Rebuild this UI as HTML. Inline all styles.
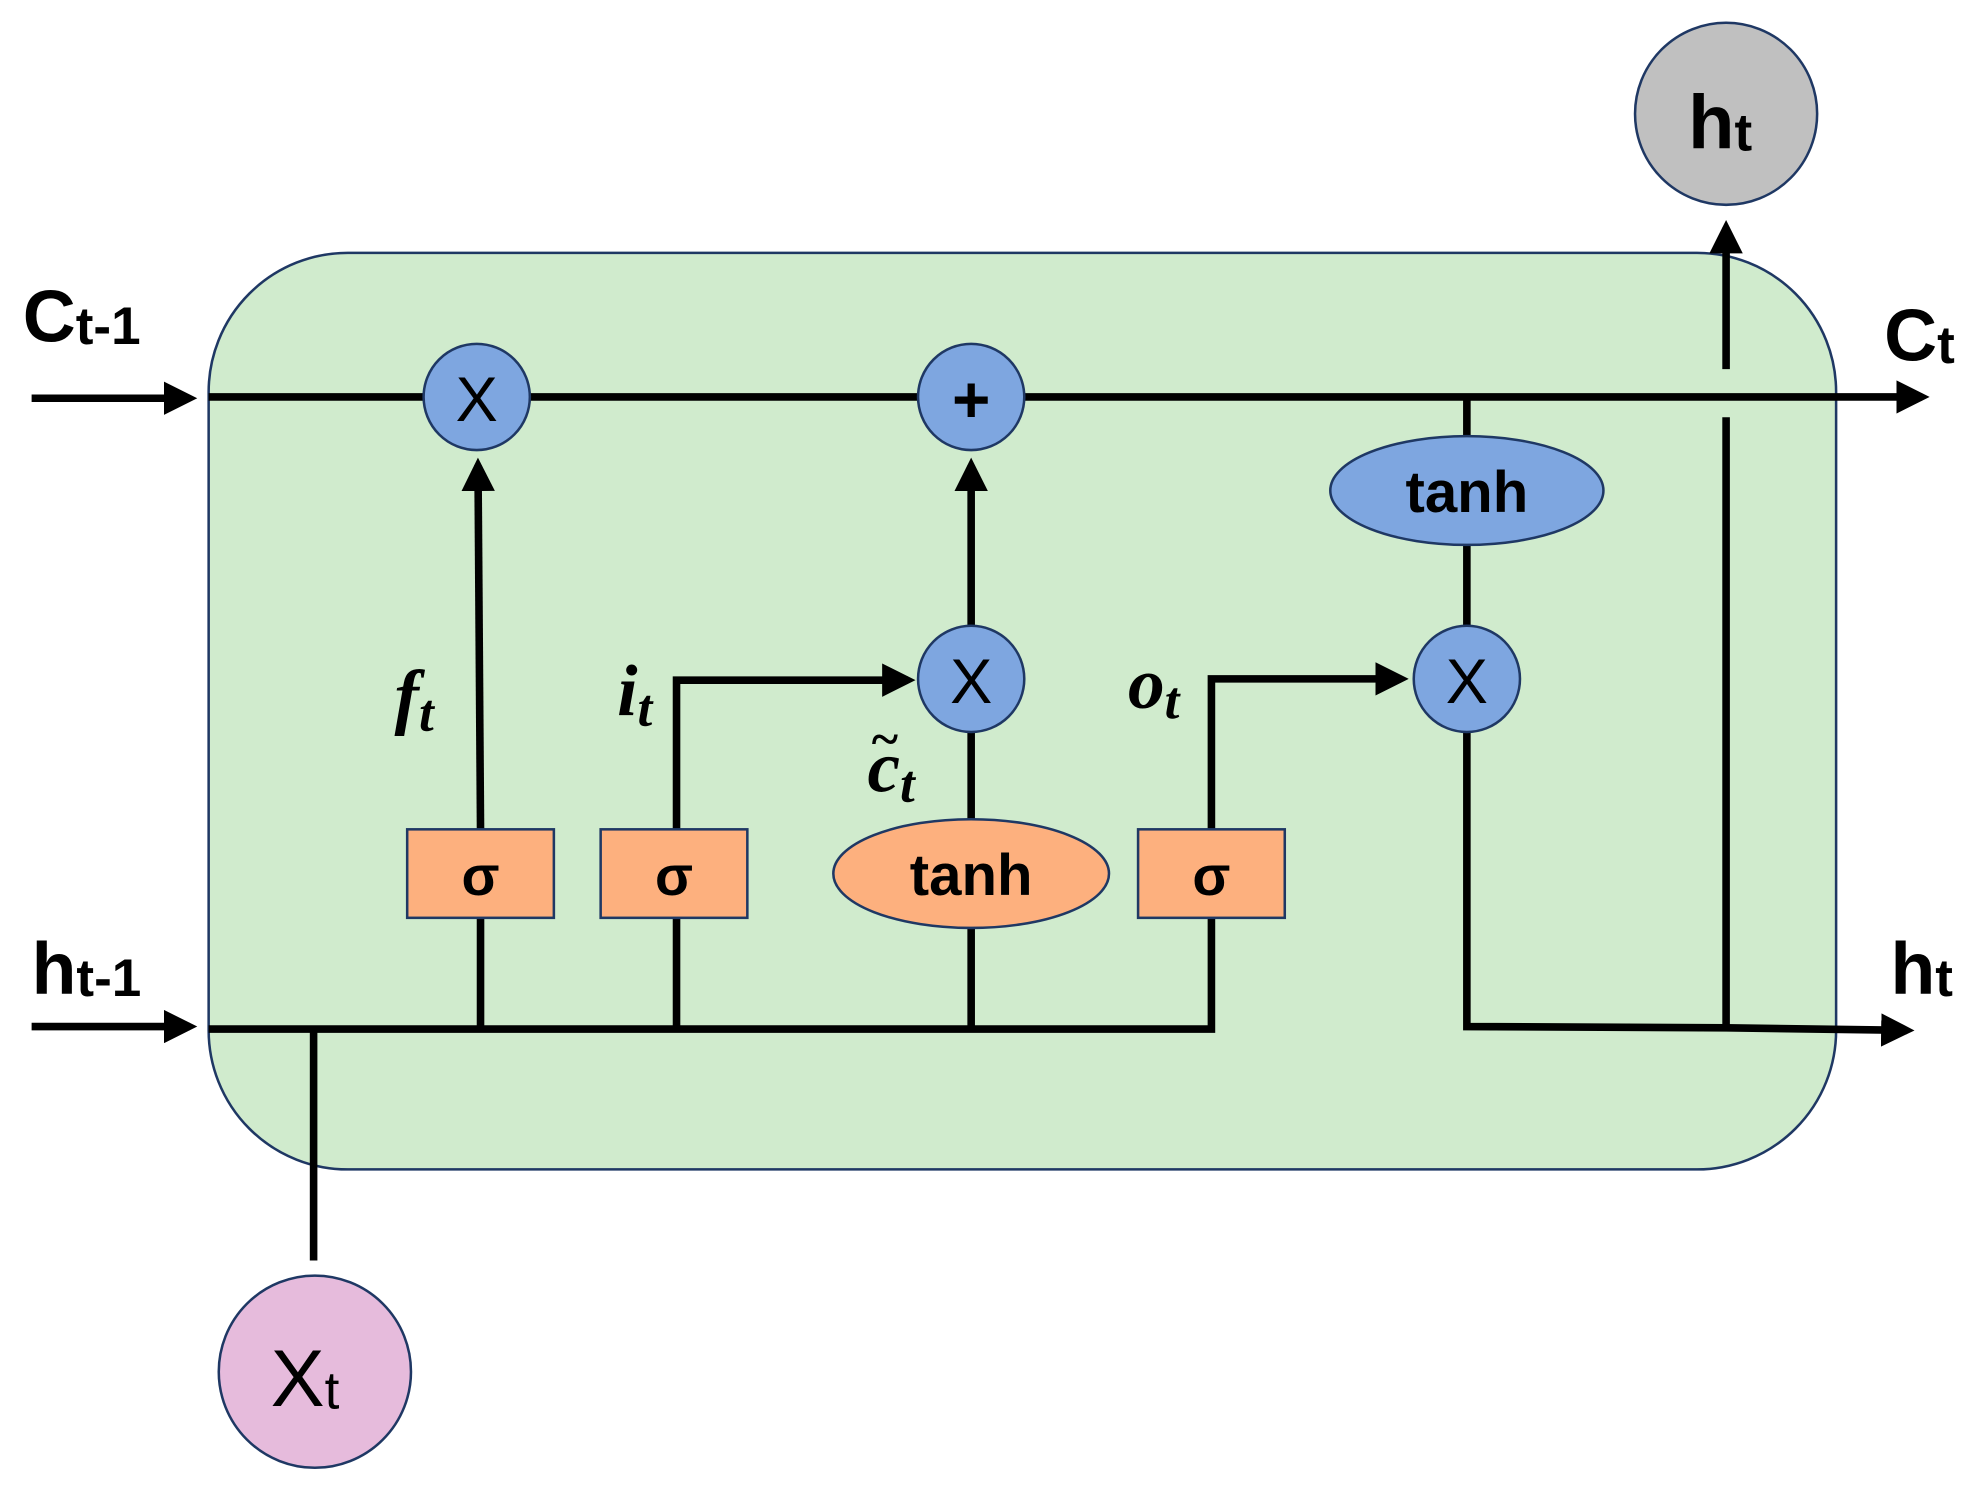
<!DOCTYPE html>
<html><head><meta charset="utf-8"><style>html,body{margin:0;padding:0;background:#fff}svg{display:block}</style></head>
<body>
<svg width="1979" height="1488" viewBox="0 0 1565 1177" preserveAspectRatio="none" xmlns="http://www.w3.org/2000/svg">
<defs>
<marker id="a" markerWidth="4.4" markerHeight="4.4" refX="3.4" refY="2.2" orient="auto" markerUnits="strokeWidth"><path d="M0,0 L4.4,2.2 L0,4.4 z" fill="#000"/></marker>
</defs>
<rect x="165" y="200" width="1287" height="725" rx="110" fill="#d0ebcd" stroke="#1f3864" stroke-width="2"/>
<g stroke="#000" stroke-width="6" fill="none">
<line x1="25" y1="315" x2="150" y2="315" marker-end="url(#a)"/>
<line x1="25" y1="812" x2="150" y2="812" marker-end="url(#a)"/>
<line x1="165" y1="314" x2="1520" y2="314" marker-end="url(#a)"/>
<polyline points="165,814 958,814 958,726"/>
<line x1="380" y1="814" x2="380" y2="726"/>
<line x1="535" y1="814" x2="535" y2="726"/>
<line x1="768" y1="814" x2="768" y2="734"/>
<line x1="248" y1="814" x2="248" y2="997"/>
<line x1="380" y1="656" x2="378" y2="368" marker-end="url(#a)"/>
<polyline points="535,656 535,538 718,538" marker-end="url(#a)"/>
<line x1="768" y1="648" x2="768" y2="579"/>
<line x1="768" y1="495" x2="768" y2="368" marker-end="url(#a)"/>
<polyline points="958,656 958,537 1108,537" marker-end="url(#a)"/>
<line x1="1160" y1="314" x2="1160" y2="345"/>
<line x1="1160" y1="431" x2="1160" y2="495"/>
<polyline points="1160,579 1160,812 1365,813 1508,815" marker-end="url(#a)"/>
<line x1="1365" y1="812" x2="1365" y2="330"/>
<line x1="1365" y1="292" x2="1365" y2="180" marker-end="url(#a)"/>
</g>
<g fill="#7ea6e0" stroke="#1f3864" stroke-width="2">
<circle cx="377" cy="314" r="42"/><circle cx="768" cy="314" r="42"/>
<circle cx="768" cy="537" r="42"/><circle cx="1160" cy="537" r="42"/>
<ellipse cx="1160" cy="388" rx="108" ry="43"/>
</g>
<g fill="#fdb07e" stroke="#1f3864" stroke-width="2">
<rect x="322" y="656" width="116" height="70"/><rect x="475" y="656" width="116" height="70"/><rect x="900" y="656" width="116" height="70"/>
<ellipse cx="768" cy="691" rx="109" ry="43"/>
</g>
<circle cx="1365" cy="90" r="72" fill="#c0c0c0" stroke="#1f3864" stroke-width="2"/>
<circle cx="249" cy="1085" r="76" fill="#e6bbdc" stroke="#1f3864" stroke-width="2"/>
<g font-family="Liberation Sans, sans-serif" font-weight="bold" text-anchor="middle" fill="#000">
<text x="377" y="333" font-size="50" font-weight="normal">X</text>
<text x="768" y="334" font-size="52">+</text>
<text x="768" y="556" font-size="50" font-weight="normal">X</text>
<text x="1160" y="556" font-size="50" font-weight="normal">X</text>
<text x="1160" y="405" font-size="46">tanh</text>
<text x="768" y="708" font-size="46">tanh</text>
<text x="380" y="708" font-size="44">σ</text><text x="533" y="708" font-size="44">σ</text><text x="958" y="708" font-size="44">σ</text>
</g>
<g font-family="Liberation Sans, sans-serif" font-weight="bold" fill="#000">
<text x="18" y="270" font-size="58">C<tspan font-size="42" dy="2">t-1</tspan></text>
<text x="25" y="786" font-size="58">h<tspan font-size="42" dy="2">t-1</tspan></text>
<text x="1490" y="285" font-size="58">C<tspan font-size="42" dy="2">t</tspan></text>
<text x="1495" y="786" font-size="58">h<tspan font-size="42" dy="2">t</tspan></text>
<text x="1335" y="117" font-size="60">h<tspan font-size="42" dy="2">t</tspan></text>
<text x="214" y="1112" font-size="64" font-weight="normal">X<tspan font-size="42" dy="2">t</tspan></text>
</g>
<g font-family="Liberation Serif, serif" font-style="italic" font-weight="bold" fill="#000">
<text x="312" y="570" font-size="58">f<tspan font-size="42" dy="8">t</tspan></text>
<text x="488" y="566" font-size="58">i<tspan font-size="42" dy="8">t</tspan></text>
<text x="892" y="560" font-size="58">o<tspan font-size="42" dy="8">t</tspan></text>
<text x="686" y="626" font-size="58">c<tspan font-size="42" dy="8">t</tspan></text>
<text x="688" y="598" font-size="40">~</text>
</g>
</svg>
</body></html>
